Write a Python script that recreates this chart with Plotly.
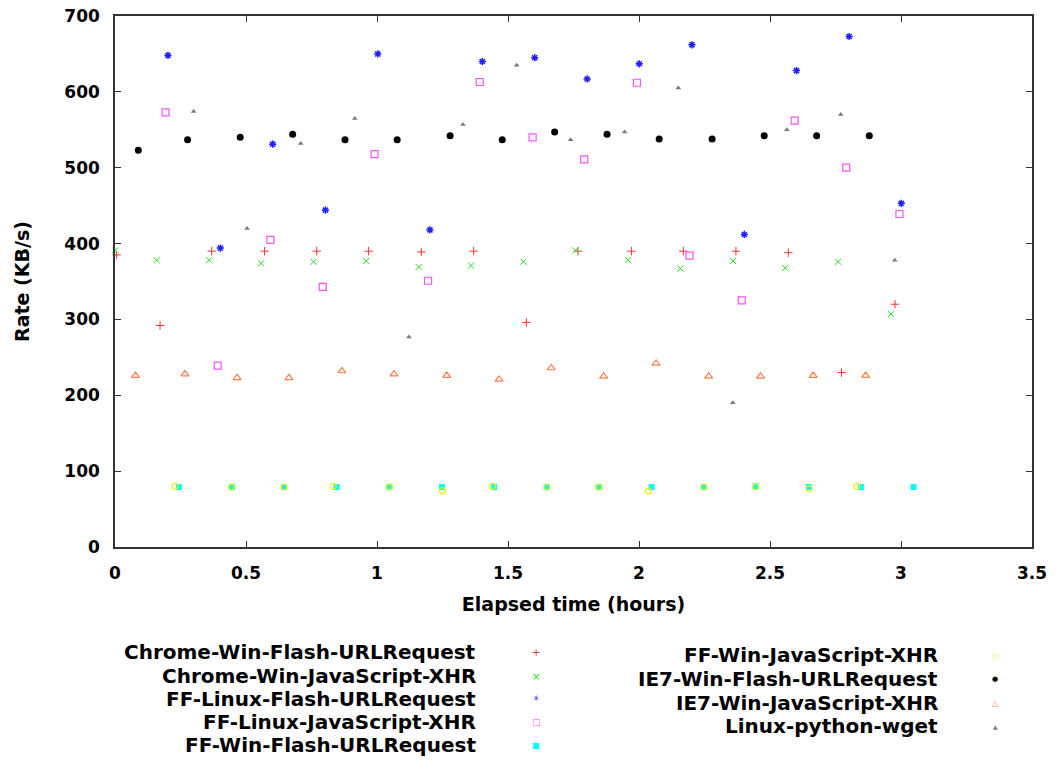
import plotly.graph_objects as go

# ---------------- data ----------------
series_names = [
    "Chrome-Win-Flash-URLRequest",
    "Chrome-Win-JavaScript-XHR",
    "FF-Linux-Flash-URLRequest",
    "FF-Linux-JavaScript-XHR",
    "FF-Win-Flash-URLRequest",
    "FF-Win-JavaScript-XHR",
    "IE7-Win-Flash-URLRequest",
    "IE7-Win-JavaScript-XHR",
    "Linux-python-wget",
]

chrome_flash_t = [0.006, 0.172, 0.369, 0.571, 0.770, 0.968, 1.169, 1.369, 1.570, 1.767, 1.971, 2.169, 2.370, 2.570, 2.773, 2.977]
chrome_flash_r = [385, 292, 390, 390, 390, 390, 389, 390, 296, 390, 390, 390, 390, 388, 230, 320]

chrome_js_t = [0.000, 0.159, 0.359, 0.558, 0.758, 0.959, 1.159, 1.359, 1.559, 1.758, 1.959, 2.159, 2.359, 2.558, 2.760, 2.962]
chrome_js_r = [391, 378, 378, 374, 376, 377, 369, 371, 376, 391, 378, 367, 377, 368, 376, 307]

ff_linux_flash_t = [0.202, 0.402, 0.602, 0.803, 1.003, 1.202, 1.402, 1.602, 1.802, 2.001, 2.202, 2.402, 2.601, 2.802, 3.001]
ff_linux_flash_r = [648, 394, 531, 444, 650, 418, 640, 645, 617, 637, 662, 412, 628, 673, 453]

ff_linux_js_t = [0.193, 0.392, 0.593, 0.793, 0.991, 1.195, 1.392, 1.594, 1.791, 1.992, 2.193, 2.392, 2.594, 2.791, 2.994]
ff_linux_js_r = [573, 239, 405, 343, 518, 351, 613, 540, 511, 612, 384, 325, 562, 500, 439]

ff_win_flash_t = [0.244, 0.447, 0.645, 0.846, 1.047, 1.248, 1.447, 1.648, 1.847, 2.048, 2.247, 2.445, 2.648, 2.847, 3.048]
ff_win_flash_r = [79, 79, 79, 79, 79, 79, 79, 79, 79, 79, 79, 80, 79, 79, 79]

ff_win_js_t = [0.230, 0.444, 0.645, 0.833, 1.047, 1.250, 1.440, 1.648, 1.847, 2.036, 2.247, 2.445, 2.649, 2.831]
ff_win_js_r = [80, 79, 79, 80, 79, 74, 80, 79, 79, 74, 79, 79, 77, 80]

ie7_flash_t = [0.089, 0.277, 0.478, 0.678, 0.878, 1.077, 1.279, 1.478, 1.678, 1.878, 2.077, 2.279, 2.478, 2.678, 2.879]
ie7_flash_r = [523, 537, 540, 544, 537, 537, 542, 537, 547, 544, 538, 538, 542, 542, 542]

ie7_js_t = [0.078, 0.267, 0.466, 0.664, 0.866, 1.065, 1.266, 1.466, 1.665, 1.865, 2.065, 2.266, 2.464, 2.665, 2.865]
ie7_js_r = [226, 228, 223, 223, 232, 228, 226, 221, 236, 225, 242, 225, 225, 226, 226]

wget_t = [0.300, 0.504, 0.709, 0.915, 1.122, 1.328, 1.533, 1.739, 1.945, 2.150, 2.358, 2.564, 2.770, 2.976]
wget_r = [574, 420, 532, 565, 277, 557, 635, 537, 547, 605, 190, 550, 570, 378]

x_tick_vals = [0, 0.5, 1, 1.5, 2, 2.5, 3, 3.5]
x_tick_text = ["0", "0.5", "1", "1.5", "2", "2.5", "3", "3.5"]
y_tick_vals = [0, 100, 200, 300, 400, 500, 600, 700]

# ---------------- styles ----------------
FONT = "DejaVu Sans"
styles = [
    dict(symbol="cross-thin-open", color="#ff3030", size=6, lw=1.0, glyph="+", gsize=10),
    dict(symbol="x-thin-open", color="#20e020", size=6, lw=1.0, glyph="×", gsize=10),
    dict(symbol="asterisk-open", color="#2020ff", size=6, lw=1.5, glyph="✳", gsize=8),
    dict(symbol="square-open", color="#ff50ff", size=7, lw=1.2, glyph="□", gsize=9),
    dict(symbol="square", color="#00ffff", size=6, lw=0, glyph="■", gsize=8),
    dict(symbol="circle-open", color="#f0f000", size=6, lw=1.2, glyph="○", gsize=8),
    dict(symbol="circle", color="#000000", size=7, lw=0, glyph="●", gsize=7),
    dict(symbol="triangle-up-open", color="#ff7f50", size=7, lw=1.2, glyph="△", gsize=8),
    dict(symbol="triangle-up", color="#7a7a7a", size=5, lw=0, glyph="▲", gsize=6),
]

data_t = [chrome_flash_t, chrome_js_t, ff_linux_flash_t, ff_linux_js_t, ff_win_flash_t,
          ff_win_js_t, ie7_flash_t, ie7_js_t, wget_t]
data_r = [chrome_flash_r, chrome_js_r, ff_linux_flash_r, ff_linux_js_r, ff_win_flash_r,
          ff_win_js_r, ie7_flash_r, ie7_js_r, wget_r]

fig = go.Figure()
for name, t, r, st in zip(series_names, data_t, data_r, styles):
    fig.add_trace(go.Scatter(
        x=t, y=r, mode="markers", name=name, showlegend=False,
        marker=dict(symbol=st["symbol"], size=st["size"], color=st["color"],
                    line=dict(width=st["lw"], color=st["color"])),
        cliponaxis=False,
    ))

# ---------------- layout ----------------
W, H = 1058, 762
ML, MR, MT, MB = 115, 26, 16, 215
PW, PH = W - ML - MR, H - MT - MB


def px_to_paper(px, py):
    return (px - ML) / PW, (H - MB - py) / PH


axis_common = dict(
    showline=True, linecolor="#333333", linewidth=1.5, mirror="ticks",
    ticks="inside", ticklen=6, tickwidth=1, tickcolor="#333333",
    showgrid=False, zeroline=False,
    tickfont=dict(family=FONT, size=17, color="#000000", weight="bold"),
)

fig.update_layout(
    width=W, height=H,
    margin=dict(l=ML, r=MR, t=MT, b=MB, autoexpand=False),
    paper_bgcolor="white", plot_bgcolor="white",
    showlegend=False,
    xaxis=dict(range=[0, 3.5], tickvals=x_tick_vals, ticktext=x_tick_text,
               ticklabelstandoff=10,
               title=dict(text="Elapsed time (hours)", standoff=16,
                          font=dict(family=FONT, size=19, color="#000000", weight="bold")),
               **axis_common),
    yaxis=dict(range=[0, 700], tickvals=y_tick_vals,
               ticklabelstandoff=10,
               title=dict(text="Rate (KB/s)", standoff=30,
                          font=dict(family=FONT, size=19, color="#000000", weight="bold")),
               **axis_common),
)

# ---------------- legend (gnuplot style: right-aligned text, key on the right) ----------------
left_rows = [652, 676, 699, 722, 745]
right_rows = [655, 679, 703, 726]
entries = []
for i in range(5):
    entries.append((i, 478, 536, left_rows[i]))
for j in range(4):
    entries.append((5 + j, 940, 995, right_rows[j]))

for idx, text_right, key_x, row_y in entries:
    st = styles[idx]
    tx, ty = px_to_paper(text_right, row_y)
    kx, ky = px_to_paper(key_x, row_y)
    fig.add_annotation(x=tx, y=ty, xref="paper", yref="paper", text=series_names[idx],
                       showarrow=False, xanchor="right", yanchor="middle",
                       font=dict(family=FONT, size=20, color="#000000", weight="bold"))
    fig.add_annotation(x=kx, y=ky, xref="paper", yref="paper", text=st["glyph"],
                       showarrow=False, xanchor="center", yanchor="middle",
                       font=dict(family=FONT, size=st["gsize"], color=st["color"]))

fig.write_html("out.html")
